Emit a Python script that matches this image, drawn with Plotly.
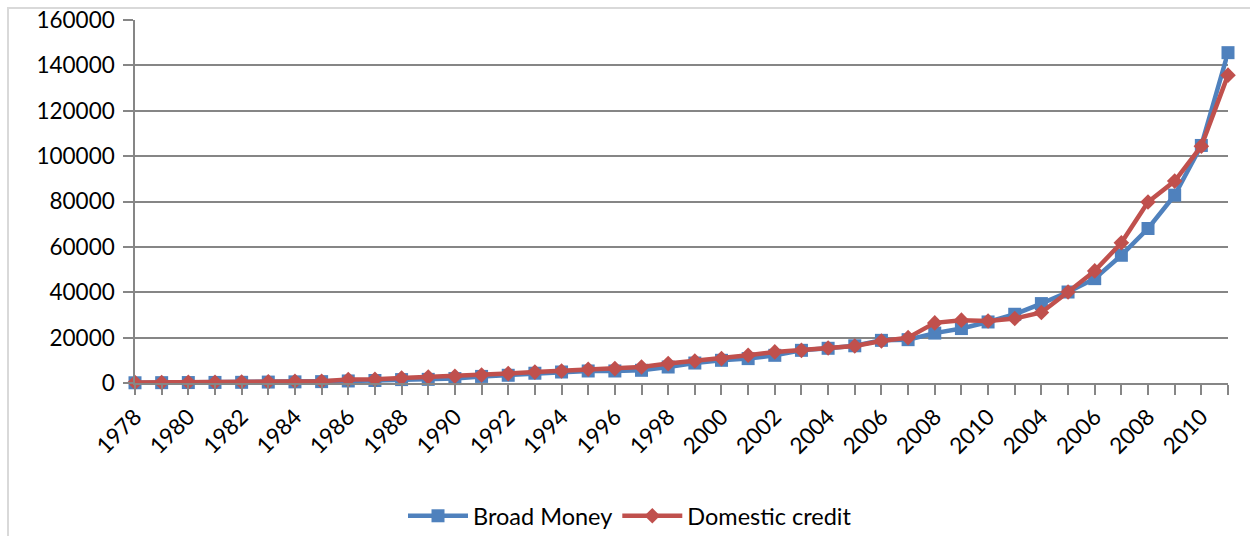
import plotly.graph_objects as go

# Category labels along the x axis (the series continues after 2010 with a second run of years)
years = [str(y) for y in range(1978, 2011)] + [str(y) for y in range(2003, 2012)]

broad_money = [100, 150, 200, 250, 300, 400, 500, 600, 900, 1100,
               1500, 1600, 1950, 2900, 3400, 4300, 4850, 5300, 5300, 5600,
               7050, 8800, 10000, 10750, 12200, 14400, 15300, 16400, 18800, 19100,
               22000, 24000, 26900, 30300, 35000, 40100, 46000, 56300, 68100, 82800,
               104700, 145600]

domestic_credit = [200, 250, 300, 350, 450, 500, 750, 800, 1500, 1600,
                   2200, 2650, 2950, 3500, 4150, 4800, 5300, 6050, 6350, 7050,
                   8550, 9700, 10750, 12200, 13700, 14400, 15400, 16300, 18500, 20000,
                   26500, 27700, 27300, 28400, 31100, 40100, 49400, 61800, 79800, 89000,
                   104400, 135700]

y_ticks = list(range(0, 160001, 20000))

x = list(range(len(years)))
tick_text = [lab if i % 2 == 0 else "" for i, lab in enumerate(years)]

FONT = "Lato, 'Open Sans', sans-serif"
GRID = "#868686"

fig = go.Figure()
fig.add_trace(go.Scatter(
    x=x, y=broad_money, name="Broad Money", mode="lines+markers",
    line=dict(color="#4F81BD", width=4.5),
    marker=dict(symbol="square", size=13, color="#4F81BD"),
    cliponaxis=False,
))
fig.add_trace(go.Scatter(
    x=x, y=domestic_credit, name="Domestic credit", mode="lines+markers",
    line=dict(color="#C0504D", width=4.5),
    marker=dict(symbol="diamond", size=12, color="#C0504D"),
    cliponaxis=False,
))

L, R, T, B = 135, 22, 20, 153
W, H = 1250, 536
pw, ph = W - L - R, H - T - B

fig.update_layout(
    width=W, height=H,
    margin=dict(l=L, r=R, t=T, b=B, autoexpand=False),
    paper_bgcolor="white", plot_bgcolor="white",
    font=dict(family=FONT, size=22, color="#000000"),
    showlegend=True,
    legend=dict(
        orientation="h", x=(630 - L) / pw, xanchor="center",
        y=-(516 - (H - B)) / ph, yanchor="middle",
        font=dict(family=FONT, size=23.5, color="#000000"),
        itemwidth=60, traceorder="normal",
    ),
    xaxis=dict(
        range=[0, len(years) - 1], automargin=False,
        tickmode="array", tickvals=x, ticktext=tick_text,
        tickangle=-45, ticks="outside", ticklen=10, tickcolor=GRID, tickwidth=1.5,
        showline=True, linecolor=GRID, linewidth=1.5,
        showgrid=False, zeroline=False,
        tickfont=dict(family=FONT, size=22.5, color="#000000"),
    ),
    yaxis=dict(
        range=[0, 160000], automargin=False,
        tickmode="array", tickvals=y_ticks, ticktext=[str(v) for v in y_ticks],
        ticks="outside", ticklen=10, tickcolor=GRID, tickwidth=1.5,
        ticklabelstandoff=4,
        showline=True, linecolor=GRID, linewidth=1.5,
        showgrid=True, gridcolor=GRID, gridwidth=1.5,
        zeroline=False,
        tickfont=dict(family=FONT, size=22.5, color="#000000"),
    ),
    shapes=[dict(
        type="rect", xref="paper", yref="paper",
        x0=(8 - L) / pw, x1=(W + 20 - L) / pw,
        y0=-(H + 20 - (H - B)) / ph, y1=1 + (T - 8) / ph,
        line=dict(color="#d9d9d9", width=2), fillcolor="rgba(0,0,0,0)",
        layer="below",
    )],
)

fig.write_html("out.html")
